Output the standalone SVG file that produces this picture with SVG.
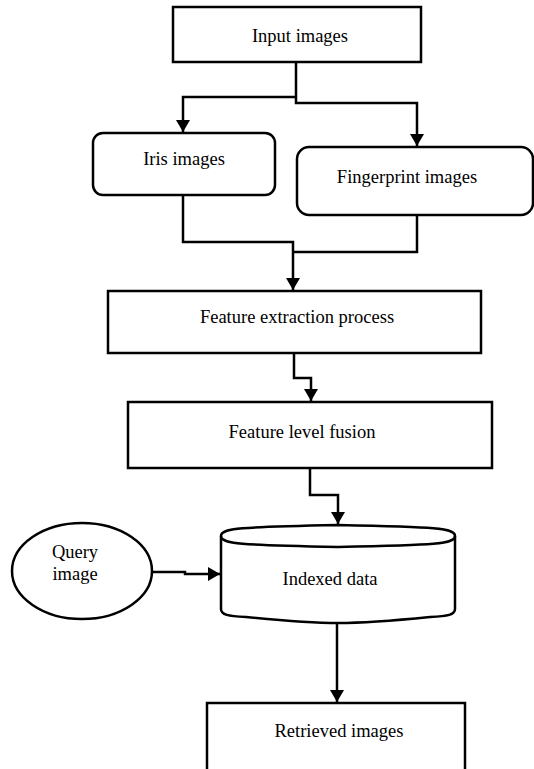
<svg xmlns="http://www.w3.org/2000/svg" width="534" height="769" viewBox="0 0 534 769">
<style>
.box{fill:#fff;stroke:#000;stroke-width:2.5}
.ln{fill:none;stroke:#000;stroke-width:2.5}
text{font-family:"Liberation Serif","Times New Roman",serif;font-size:18.5px;fill:#000;text-anchor:middle}
</style>
<defs>
<marker id="ah" markerUnits="userSpaceOnUse" markerWidth="16" markerHeight="14" refX="12" refY="7" orient="auto">
<path d="M0,0 L12,7 L0,14 Z" fill="#000"/>
</marker>
</defs>
<rect width="534" height="769" fill="#fff"/>
<g id="connectors">
<path class="ln" d="M296,62 V103 H417 V146" marker-end="url(#ah)"/>
<path class="ln" d="M296,97 H183 V132" marker-end="url(#ah)"/>
<path class="ln" d="M183,195 V242 H293 V290" marker-end="url(#ah)"/>
<path class="ln" d="M417,215 V252 H293"/>
<path class="ln" d="M294,353 V378 H311 V401" marker-end="url(#ah)"/>
<path class="ln" d="M310,468 V495 H338 V524" marker-end="url(#ah)"/>
<path class="ln" d="M152,572 H185 V574 H220" marker-end="url(#ah)"/>
<path class="ln" d="M337,623 V702" marker-end="url(#ah)"/>
</g>
<g id="input">
<rect class="box" x="173" y="7" width="248" height="55"/>
<text x="300" y="42">Input images</text>
</g>
<g id="iris">
<rect class="box" x="93" y="133" width="182" height="62" rx="10"/>
<text x="184" y="165">Iris images</text>
</g>
<g id="fingerprint">
<rect class="box" x="297" y="147" width="236" height="68" rx="12"/>
<text x="407" y="183">Fingerprint images</text>
</g>
<g id="feature-extraction">
<rect class="box" x="108" y="291" width="373" height="62"/>
<text x="297" y="323">Feature extraction process</text>
</g>
<g id="feature-fusion">
<rect class="box" x="128" y="402" width="364" height="66"/>
<text x="302" y="438">Feature level fusion</text>
</g>
<g id="query">
<ellipse class="box" cx="82" cy="571" rx="70" ry="48"/>
<text x="75" y="558">Query</text>
<text x="75" y="580">image</text>
</g>
<g id="indexed">
<path class="box" d="M221,536 C221,528 240,527 338,525 C436,527 455,528 455,536 V609 C455,615 448,616 430,617 C390,621 360,623 338,623 C316,623 286,621 246,617 C228,616 221,615 221,609 Z"/>
<path class="ln" d="M221,536 C221,544 240,545 338,547 C436,545 455,544 455,536"/>
<text x="330" y="585">Indexed data</text>
</g>
<g id="retrieved">
<rect class="box" x="207" y="703" width="258" height="72"/>
<text x="339" y="737">Retrieved images</text>
</g>
</svg>
